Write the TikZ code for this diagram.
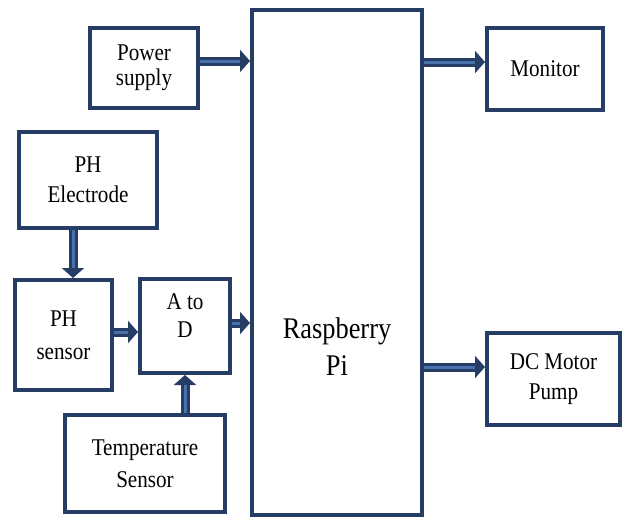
\documentclass[tikz,border=0pt]{standalone}
\usepackage{fontspec}
\setmainfont{Liberation Serif}[FakeStretch=0.88]
\usepackage{tikz}
\usetikzlibrary{arrows.meta, calc}
\definecolor{pi_navy}{RGB}{38, 62, 102}
\definecolor{pi_mid}{RGB}{72, 112, 170}

\begin{document}
\begin{tikzpicture}[x=1pt, y=-1pt, font=\fontsize{24}{30}\selectfont,
      blk/.style={draw=pi_navy, line width=4pt, fill=white, align=center, inner sep=2pt},
      flow/.style={draw=pi_navy, line width=9pt, -{Triangle[length=10pt, width=22pt]},
        postaction={draw=pi_mid, line width=3pt, -, shorten >=10pt}}]
    \useasboundingbox (0,0) rectangle (623,517);
    \node[blk, minimum width=108pt, minimum height=80pt, font=\fontsize{24}{25}\selectfont] (power) at (144,68) {Power\\ supply};
    \node[blk, minimum width=170pt, minimum height=505pt] (pi) at (337,262.5) {};
    \node[font=\fontsize{30}{37}\selectfont, align=center] (pitxt) at (337,347) {Raspberry\\ Pi};
    \node[blk, minimum width=116pt, minimum height=82pt] (monitor) at (545,69) {Monitor};
    \node[blk, minimum width=138pt, minimum height=96pt] (elec) at (88,180) {PH\\ Electrode};
    \node[blk, minimum width=97pt, minimum height=110pt, font=\fontsize{24}{33}\selectfont] (sensor) at (63.5,335) {PH\\ sensor};
    \node[blk, minimum width=90pt, minimum height=94pt, font=\fontsize{24}{28}\selectfont] (adc) at (185,326) {A to\\ D\\[-8pt]};
    \node[blk, minimum width=160pt, minimum height=97pt, font=\fontsize{24}{32}\selectfont] (temp) at (145,463.5) {Temperature\\ Sensor};
    \node[blk, minimum width=133pt, minimum height=92pt] (pump) at (553.5,379) {DC Motor\\ Pump};
    % inputs
    \draw[flow] ([yshift=7pt]power.east) -- ([yshift=7pt]power.east -| pi.west);
    \draw[flow] ([xshift=-15pt]elec.south) -- ([xshift=-15pt]elec.south |- sensor.north);
    \draw[flow] ([yshift=3pt]sensor.east) -- ([yshift=3pt]sensor.east -| adc.west);
    \draw[flow] ([yshift=3pt]adc.east) -- ([yshift=3pt]adc.east -| pi.west);
    \draw[flow] (temp.north -| adc.south) -- (adc.south);
    % outputs
    \draw[flow] ([yshift=7pt]monitor.west -| pi.east) -- ([yshift=7pt]monitor.west);
    \draw[flow] ([yshift=12pt]pump.west -| pi.east) -- ([yshift=12pt]pump.west);
  \end{tikzpicture}
\end{document}
